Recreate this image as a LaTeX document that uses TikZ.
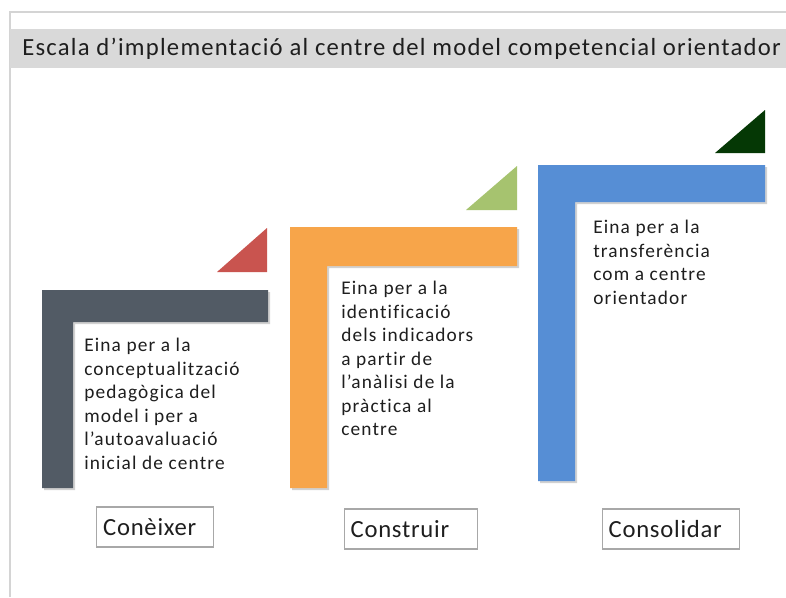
\documentclass[tikz,border=0pt]{standalone}
\usepackage{fontspec}
\setmainfont{Carlito}
\newfontfamily\titlefont[LetterSpace=5]{Carlito}
\newfontfamily\bodyfont[LetterSpace=6,Ligatures=NoCommon]{Carlito}
\newfontfamily\labelfont[LetterSpace=3]{Carlito}
\definecolor{framegray}{HTML}{D4D4D4}
\definecolor{titlegray}{HTML}{D9D9D9}
\definecolor{txt}{HTML}{1E1E1E}
\definecolor{slate}{HTML}{525B65}
\definecolor{redtri}{HTML}{C9544F}
\definecolor{orangeL}{HTML}{F7A54A}
\definecolor{greentri}{HTML}{A6C36F}
\definecolor{blueL}{HTML}{568ED5}
\definecolor{darkgreentri}{HTML}{053805}
\definecolor{boxgray}{HTML}{A8A8A8}
\begin{document}
\begin{tikzpicture}[x=0.75pt,y=-0.75pt,
  bodytext/.style={font=\bodyfont\fontsize{14.5}{17.6}\selectfont, text=txt, align=left, inner sep=0pt, anchor=north west},
  stagelabel/.style={draw=boxgray, line width=0.8pt, font=\labelfont\fontsize{18.5}{20}\selectfont, text=txt, inner xsep=5pt, inner ysep=0pt, align=left, anchor=west, minimum height=30pt},
  shadow/.style={fill=black!18}]
\useasboundingbox (0,0) rectangle (786,597);
\fill[white] (0,0) rectangle (786,597);
% frame and title band
\draw[framegray, line width=1.1pt] (10,597) -- (10,12) -- (786,12);
\fill[titlegray] (10,29) rectangle (786,68);
\node[anchor=west, inner sep=0pt, font=\titlefont\fontsize{18.5}{20}\selectfont, text=txt] (title) at (22,48.5) {Escala d’implementació al centre del model competencial orientador};
% shadows
\fill[shadow] (44,292) -- (270,292) -- (270,324) -- (75,324) -- (75,490) -- (44,490) -- cycle;
\fill[shadow] (292,229) -- (519,229) -- (519,268) -- (329,268) -- (329,490) -- (292,490) -- cycle;
\fill[shadow] (540,167) -- (767,167) -- (767,204) -- (577,204) -- (577,483) -- (540,483) -- cycle;
% L shapes
\fill[slate] (42,290) -- (268,290) -- (268,322) -- (73,322) -- (73,488) -- (42,488) -- cycle;
\fill[orangeL] (290,227) -- (517,227) -- (517,266) -- (327,266) -- (327,488) -- (290,488) -- cycle;
\fill[blueL] (538,165) -- (765,165) -- (765,202) -- (575,202) -- (575,481) -- (538,481) -- cycle;
% triangles
\fill[redtri] (217,272) -- (267,272) -- (267,228) -- cycle;
\fill[greentri] (466,210) -- (517,210) -- (517,166) -- cycle;
\fill[darkgreentri] (715,153) -- (765,153) -- (765,110) -- cycle;
% texts
\node[bodytext] (t1) at (84,338) {Eina per a la\\conceptualització\\pedagògica del\\model i per a\\l’autoavaluació\\inicial de centre};
\node[bodytext] (t2) at (341,281) {Eina per a la\\identificació\\dels indicadors\\a partir de\\l’anàlisi de la\\pràctica al\\centre};
\node[bodytext] (t3) at (593,220) {Eina per a la\\transferència\\com a centre\\orientador};
% labels
\node[stagelabel, text width=77.75pt] (l1) at (96,527) {Conèixer};
\node[stagelabel, text width=89.75pt] (l2) at (343.5,529) {Construir};
\node[stagelabel, text width=92.75pt] (l3) at (601.5,529) {Consolidar};
\end{tikzpicture}
\end{document}
